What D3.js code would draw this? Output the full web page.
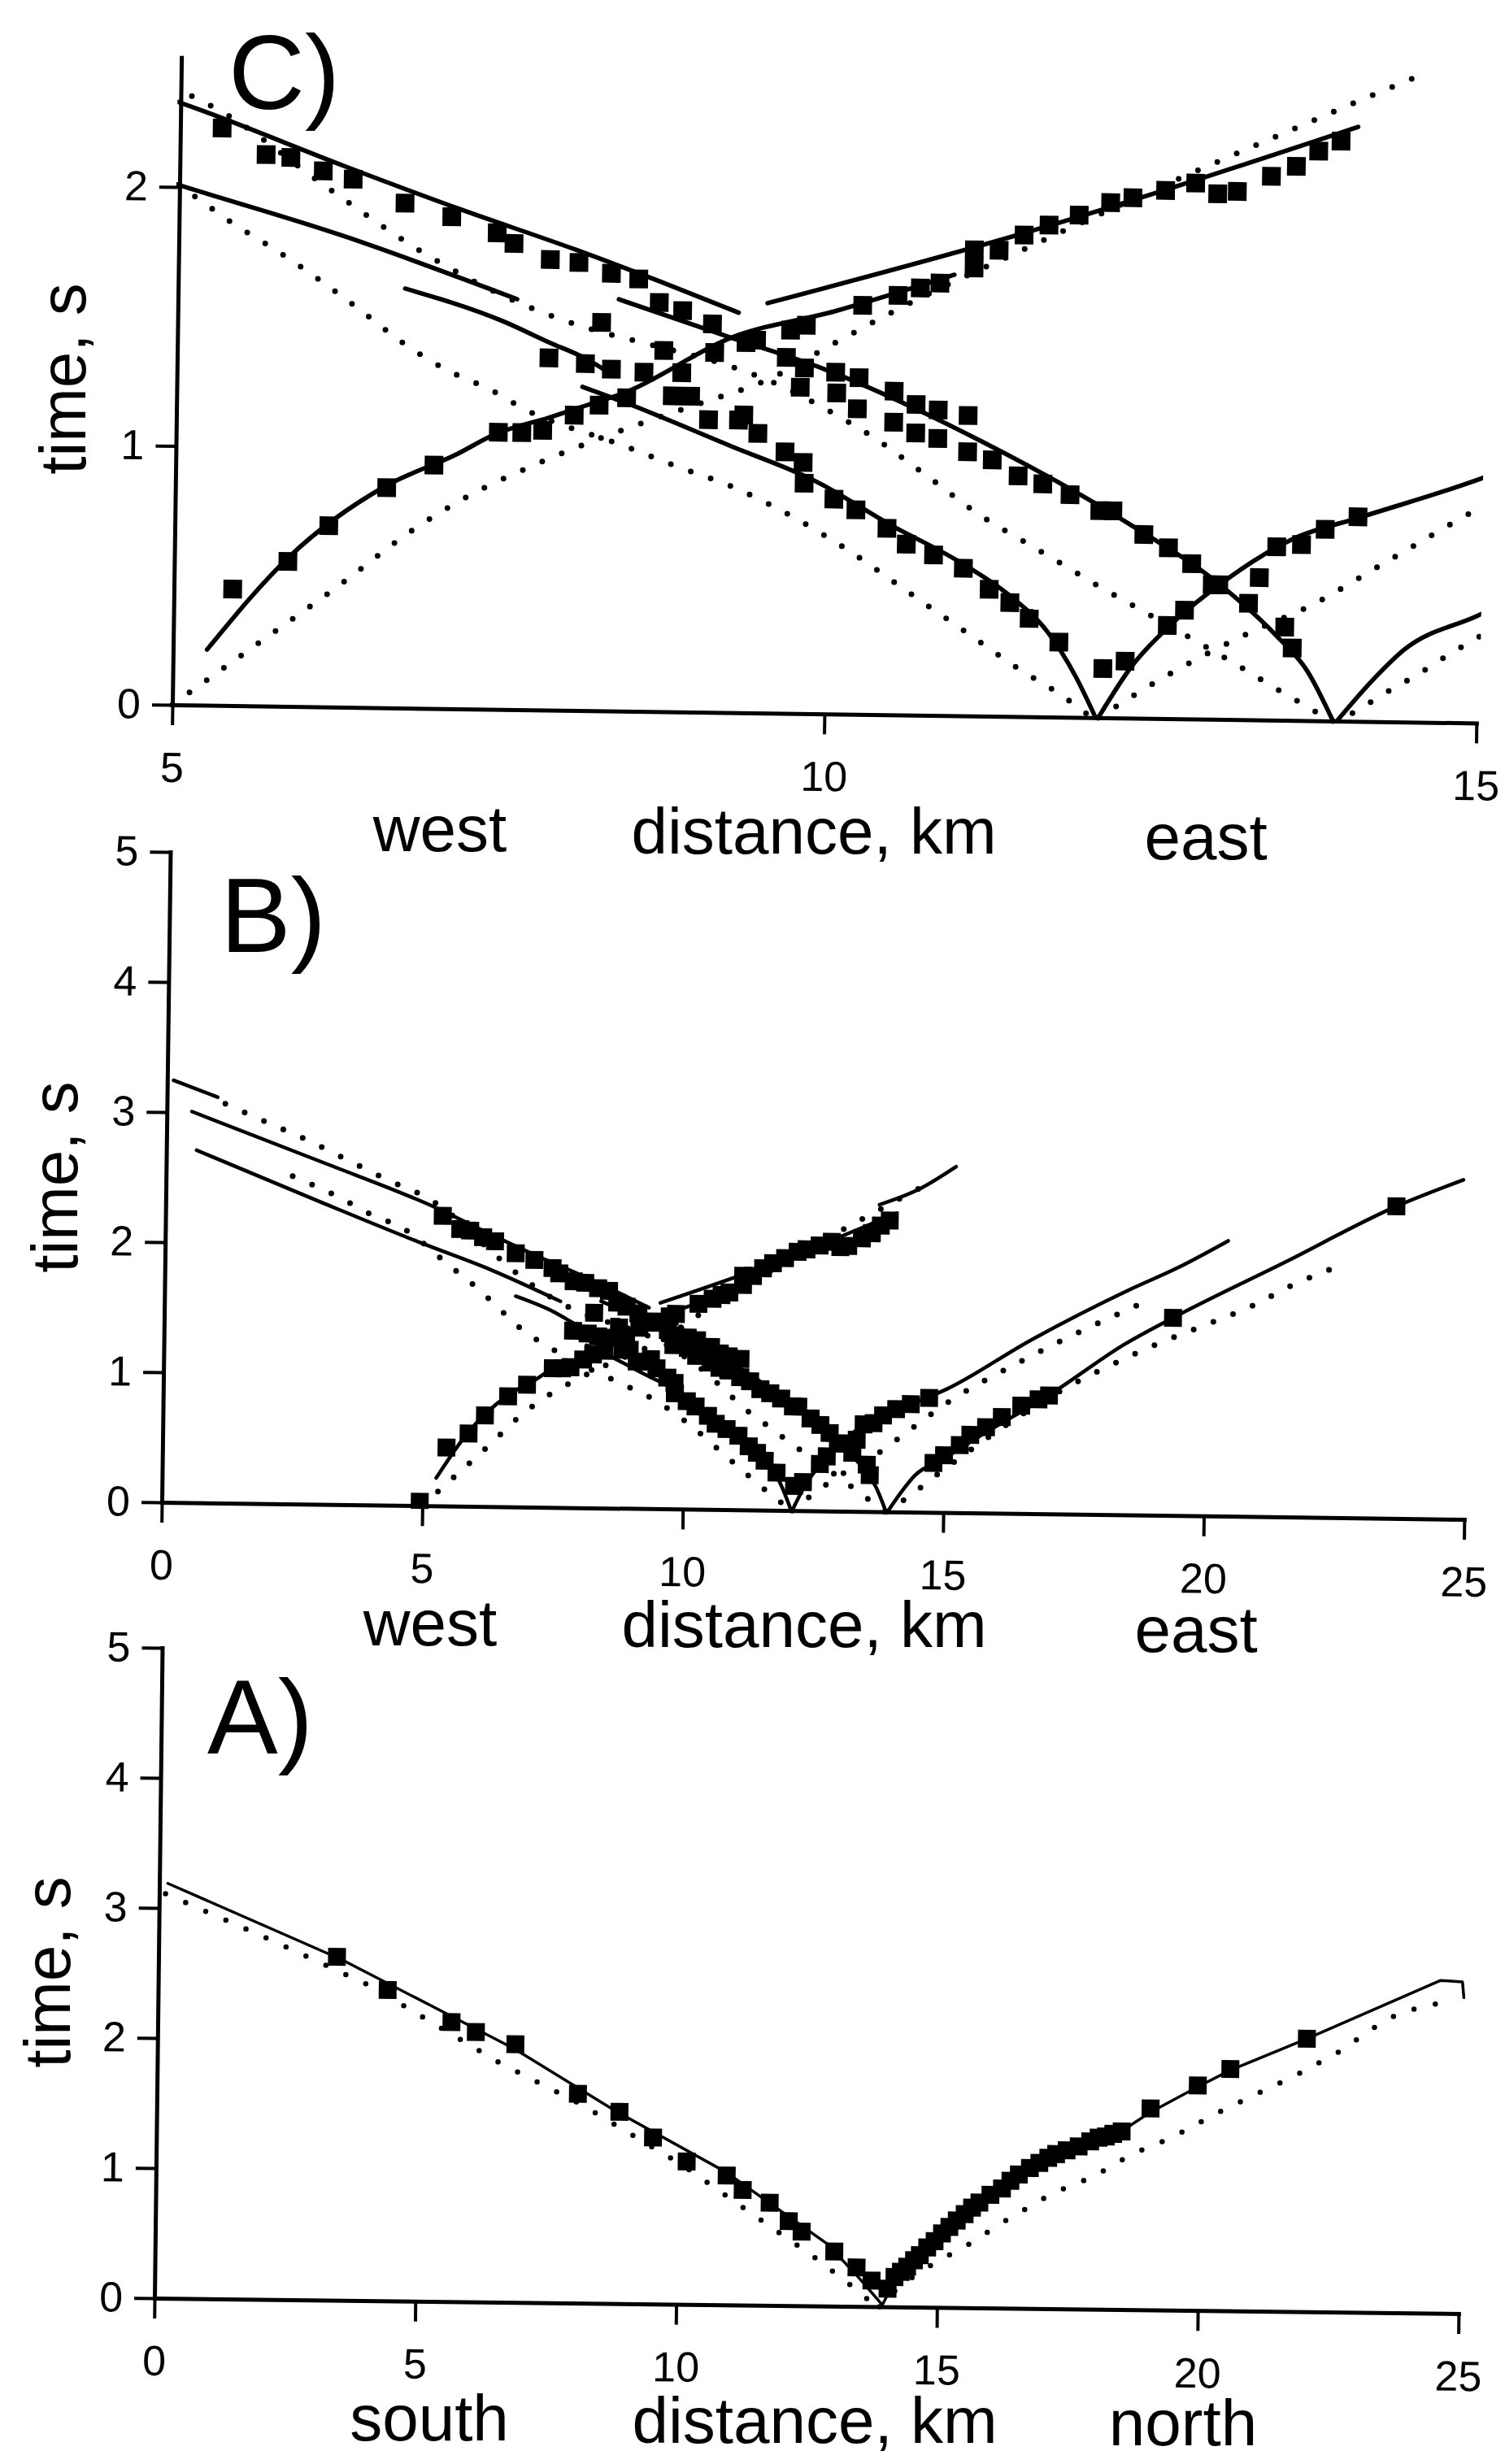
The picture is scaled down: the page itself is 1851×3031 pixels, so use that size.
<!DOCTYPE html>
<html>
<head>
<meta charset="utf-8">
<script src="https://cdn.jsdelivr.net/npm/d3@7"></script>
<style>
  html, body { margin: 0; padding: 0; background: #fff; }
  svg { display: block; }
</style>
</head>
<body>
<svg id="fig" width="1851" height="3031"></svg>
<script>
// ---------------------------------------------------------------
// Travel-time curves: observed first arrivals (squares), fitted
// model (solid) and starting model (dotted) for three profiles.
// Distance in km, time in s.
// ---------------------------------------------------------------

// ---- tick values ----
const ticksC_x = [5, 10, 15];
const ticksC_y = [0, 1, 2];
const ticksAB_x = [0, 5, 10, 15, 20, 25];
const ticksAB_y = [0, 1, 2, 3, 4, 5];

// ---- west-east profile (shared by panels B and C) ----
// fitted model branches
const weFitS1 = [[0.48,3.007],[3.0,2.63],[5.2,2.29],[6.26,2.09],[7.15,1.93],[8.04,1.78],[8.7,1.66],[9.30,1.545]];
const weFitS2 = [[0.58,2.71],[3.0,2.32],[4.91,2.02],[6.26,1.82],[7.6,1.585]];
const weFitS3 = [[6.74,1.62],[7.49,1.50],[7.85,1.42],[8.13,1.36],[8.3,1.31]];
const weFitD3 = [[8.11,1.25],[8.5,1.18],[9.25,1.03],[9.9,0.9],[10.5,0.73],[11.0,0.60],[11.4,0.47],[11.7,0.33],[11.92,0.16],[12.08,0.0]];
const weFitD2 = [[8.38,1.59],[9.23,1.45],[9.97,1.33],[11.18,1.06],[12.31,0.752],[13.03,0.516],[13.45,0.33],[13.7,0.19],[13.9,0.0]];
const weFitR1 = [[5.26,0.215],[5.88,0.578],[6.61,0.856],[7.15,0.982],[7.44,1.061],[7.86,1.13],[8.15,1.18],[8.42,1.227],[9.25,1.449],[10.04,1.556],[10.95,1.703]];
const weFitR2 = [[9.52,1.583],[11.56,1.88],[14.03,2.296]];
const weFitR3 = [[12.10,0.0],[12.35,0.2],[12.66,0.37],[13.04,0.53],[13.57,0.70],[14.1,0.79],[15.04,0.95],[16.62,1.33],[18.51,1.73],[19.46,1.91],[20.40,2.117]];
const weFitR4 = [[13.93,0.0],[14.2,0.16],[14.44,0.28],[15.0,0.415],[15.64,0.58],[17.1,0.94],[18.43,1.31],[19.36,1.52],[21.5,1.96],[23.62,2.40],[24.9,2.61]];
// branches only drawn on the full west-east section
const weFitTop = [[0.12,3.245],[0.97,3.12]];
const weFitTail = [[13.7,2.36],[14.44,2.48],[15.16,2.66]];

// starting model branches
const weInitD1 = [[1.12,3.07],[1.93,2.93],[2.7,2.80],[3.48,2.65],[4.26,2.50],[5.05,2.36],[5.29,2.30],[6.15,2.0],[6.86,1.764],[7.62,1.57],[8.11,1.482],[8.6,1.42],[9.27,1.333],[9.56,1.28],[10.03,1.163],[10.34,1.073],[10.76,0.925],[11.19,0.77],[11.5,0.68],[11.79,0.596],[12.1,0.505],[12.4,0.423],[12.86,0.296],[13.15,0.214],[13.46,0.122],[13.75,0.04],[13.88,0.0]];
const weInitD2 = [[2.43,2.52],[3.24,2.38],[4.02,2.22],[4.52,2.14],[5.1,1.97],[5.42,1.86],[5.75,1.76],[6.08,1.65],[6.41,1.53],[6.73,1.41],[7.06,1.31],[7.42,1.23],[7.66,1.163],[8.42,1.027],[8.83,0.95],[9.3,0.866],[9.76,0.753],[10.2,0.622],[10.63,0.475],[11.07,0.326],[11.5,0.18],[11.8,0.09],[12.05,0.0]];
const weInitR1 = [[5.0,0.0],[5.15,0.056],[5.7,0.26],[6.26,0.468],[6.81,0.683],[7.25,0.823],[7.72,0.939],[8.03,1.007],[8.5,1.10],[9.0,1.19],[9.54,1.29],[10.03,1.43],[10.48,1.556],[11.5,1.81],[12.94,2.15],[13.56,2.29],[14.05,2.40],[14.53,2.505]];
const weInitR3 = [[12.1,0.0],[12.6,0.16],[13.35,0.36],[13.66,0.43],[14.3,0.62],[15.0,0.83],[16.5,1.18],[18.98,1.67]];
const weInitR4 = [[13.9,0.0],[14.08,0.04],[14.24,0.093],[14.53,0.18],[14.82,0.275],[15.0,0.33],[16.71,0.82],[17.43,0.995],[18.23,1.16],[19.08,1.32],[19.93,1.46],[20.88,1.62],[21.63,1.78],[22.44,1.92]];

// observed first arrivals
const weObserved = [
  [5.45,0.45],[5.87,0.56],[6.18,0.70],[6.62,0.85],[6.98,0.94],[7.47,1.07],[7.65,1.07],[7.81,1.08],[8.05,1.14],[8.24,1.18],[8.45,1.21],
  [5.32,2.23],[5.66,2.13],[5.85,2.12],[6.10,2.07],[6.33,2.04],[6.73,1.95],[7.09,1.90],[7.44,1.84],[7.57,1.80],[7.85,1.74],[8.07,1.73],[8.32,1.69],[8.53,1.67],[8.69,1.58],[8.87,1.55],[9.10,1.50],[9.36,1.43],
  [7.85,1.36],[8.13,1.34],[8.33,1.32],[8.25,1.50],[8.58,1.31],[8.73,1.395],[8.87,1.31],[9.12,1.39],[8.80,1.22],[8.94,1.22],[9.08,1.13],[9.31,1.13],[9.35,1.15],
  [9.46,1.08],[9.67,1.01],[9.81,0.97],[9.82,0.89],[10.05,0.83],[10.22,0.79],[10.46,0.72],[10.61,0.66],[10.82,0.62],[11.05,0.57],[11.25,0.49],[11.41,0.44],[11.56,0.38],[11.79,0.29],
  [9.78,1.26],[10.06,1.24],[10.22,1.18],[10.50,1.13],[10.67,1.09],[10.84,1.07],[11.07,1.02],[11.26,0.99],[11.46,0.93],[11.65,0.90],[11.86,0.86],[12.09,0.80],[12.19,0.80],[12.43,0.71],[12.62,0.66],[12.80,0.60],[13.01,0.52],[13.24,0.45],[13.52,0.36],[13.58,0.28],
  [9.67,1.375],[9.81,1.335],[10.05,1.32],[10.23,1.30],[10.50,1.25],[10.67,1.20],[10.84,1.18],[11.07,1.16],
  [9.44,1.44],[9.70,1.48],[9.82,1.50],[10.25,1.58],[10.52,1.62],[10.69,1.65],[10.84,1.67],[11.10,1.73],[11.10,1.80],[11.29,1.80],[11.48,1.86],[11.67,1.90],[11.90,1.94],[12.14,1.99],[12.31,2.01],[12.56,2.04],[12.79,2.07],[12.96,2.03],[13.11,2.04],[13.37,2.10],[13.56,2.14],[13.73,2.20],[13.90,2.24],
  [12.13,0.19],[12.30,0.22],[12.62,0.36],[12.75,0.42],[12.96,0.52],[13.32,0.55],[13.45,0.67],[13.64,0.68],[13.82,0.74],[14.07,0.79]
];
// picks only shown on the full west-east section
const weObservedFar = [
  [4.95,0.03],[14.35,0.83],[14.7,0.88],[14.8,0.38],[15.0,0.44],[15.3,0.52],[15.5,0.60],[15.8,0.66],[16.1,0.74],[16.47,0.83],[16.8,0.88],[17.0,0.91],[19.36,1.52],[23.62,2.40]
];

// ---- south-north profile (panel A) ----
const snFitSouth = [[0.16,3.19],[3.51,2.62],[5.6,2.2],[6.84,1.95],[8.8,1.48],[10.93,1.02],[12.88,0.48],[13.5,0.22],[13.94,0.02]];
const snFitNorth = [[13.96,0.02],[14.18,0.2],[14.66,0.38],[15.22,0.6],[15.79,0.8],[16.54,1.02],[17.25,1.17],[18.06,1.31],[18.6,1.40],[19.05,1.52],[19.95,1.72],[20.57,1.85],[22.03,2.10],[24.58,2.56],[25.0,2.55],[25.03,2.43]];
const snInitSouth = [[0.12,3.11],[2.12,2.77],[4.07,2.42],[6.52,1.85],[8.15,1.525],[10.11,1.066],[11.74,0.62],[12.62,0.38],[13.29,0.18],[13.62,0.07],[13.9,0.0]];
const snInitNorth = [[13.9,0.0],[14.3,0.17],[14.94,0.34],[15.6,0.49],[16.36,0.69],[17.2,0.89],[17.97,1.02],[18.72,1.20],[19.48,1.33],[20.28,1.51],[21.08,1.67],[21.84,1.82],[22.64,2.0],[23.35,2.20],[23.82,2.31],[24.6,2.39]];
const snObserved = [
  [3.42,2.64],[4.40,2.39],[5.63,2.15],[6.10,2.075],[6.86,1.985],[8.07,1.61],[8.87,1.475],[9.52,1.28],[10.17,1.10],[10.94,0.995],[11.25,0.885],[11.77,0.79],[12.14,0.65],[12.39,0.57],[13.02,0.42],[13.45,0.30],[13.74,0.20],
  [14.05,0.14],[14.18,0.23],[14.3,0.27],[14.42,0.31],[14.55,0.36],[14.66,0.40],[14.8,0.46],[14.94,0.51],[15.08,0.57],[15.22,0.62],[15.36,0.67],[15.51,0.72],[15.65,0.77],[15.79,0.81],[16.0,0.87],[16.22,0.92],[16.38,0.98],[16.54,1.03],[16.75,1.08],[16.93,1.12],[17.1,1.16],[17.25,1.19],[17.45,1.22],[17.68,1.25],[17.9,1.29],[18.06,1.32],[18.2,1.33],[18.34,1.35],[18.5,1.37],
  [19.05,1.55],[19.95,1.73],[20.57,1.86],[22.03,2.10]
];

// ---------------------------------------------------------------
const FONT = "'Liberation Sans', Arial, Helvetica, sans-serif";
const svg = d3.select("#fig");
svg.append("rect").attr("width", 1851).attr("height", 3031).attr("fill", "#fff");

function drawPanel(cfg) {
  const g = svg.append("g")
    .attr("transform", `translate(${cfg.ox},${cfg.oy}) rotate(${cfg.angle})`);

  const x = d3.scaleLinear().domain(cfg.xDomain).range([0, cfg.width]);
  const y = d3.scaleLinear().domain([0, cfg.yMax]).range([0, -cfg.yMax * cfg.pxPerSec]);

  const clipId = "clip-" + cfg.id;
  g.append("clipPath").attr("id", clipId).append("rect")
    .attr("x", -4).attr("y", y(cfg.yMax) - 20)
    .attr("width", cfg.width + 8).attr("height", cfg.yMax * cfg.pxPerSec + 24);

  const marks = g.append("g").attr("clip-path", `url(#${clipId})`);
  const line = d3.line().x(d => x(d[0])).y(d => y(d[1])).curve(cfg.curve);

  // starting model: round dots
  marks.append("g").selectAll("path").data(cfg.dotted).join("path")
    .attr("d", line).attr("fill", "none").attr("stroke", "#000")
    .attr("stroke-width", cfg.dotSize).attr("stroke-linecap", "round")
    .attr("stroke-dasharray", `0 ${cfg.dotGap}`);

  // fitted model: solid
  marks.append("g").selectAll("path").data(cfg.solid).join("path")
    .attr("d", line).attr("fill", "none").attr("stroke", "#000")
    .attr("stroke-width", cfg.lineW).attr("stroke-linecap", "round").attr("stroke-linejoin", "round");

  // observed picks
  const s = cfg.sq;
  marks.append("g").selectAll("rect").data(cfg.squares).join("rect")
    .attr("x", d => x(d[0]) - s / 2).attr("y", d => y(d[1]) - s / 2)
    .attr("width", s).attr("height", s).attr("fill", "#000");

  // axes
  const gx = g.append("g").call(
    d3.axisBottom(x).tickValues(cfg.xTicks).tickFormat(d3.format("d"))
      .tickSize(25).tickSizeOuter(0).tickPadding(33));
  const gy = g.append("g").call(
    d3.axisLeft(y).tickValues(cfg.yTicks).tickFormat(d3.format("d"))
      .tickSize(25).tickSizeOuter(0).tickPadding(14));
  [gx, gy].forEach(a => {
    a.attr("font-size", 52).attr("font-family", FONT);
    a.select(".domain").attr("stroke-width", 5).attr("stroke-linecap", "square");
    a.selectAll(".tick line").attr("stroke-width", 4);
    a.selectAll(".tick text").attr("fill", "#000");
  });
}

// C) enlarged west-east section
drawPanel({
  id: "C", ox: 212, oy: 867, angle: 0.8,
  xDomain: [5, 15], width: 1604, yMax: 2.5, pxPerSec: 318.5,
  xTicks: ticksC_x, yTicks: ticksC_y, curve: d3.curveMonotoneX,
  solid: [weFitS1, weFitS2, weFitS3, weFitD3, weFitD2, weFitR1, weFitR2, weFitR3, weFitR4],
  dotted: [weInitD1, weInitD2, weInitR1, weInitR3, weInitR4],
  squares: weObserved,
  lineW: 5.5, dotSize: 7, dotGap: 26, sq: 23
});

// B) full west-east section
drawPanel({
  id: "B", ox: 199, oy: 1848, angle: 0.75,
  xDomain: [0, 25], width: 1602, yMax: 5, pxPerSec: 160,
  xTicks: ticksAB_x, yTicks: ticksAB_y, curve: d3.curveMonotoneX,
  solid: [weFitTop, weFitS1, weFitS2, weFitS3, weFitD3, weFitD2, weFitR1, weFitR2, weFitTail, weFitR3, weFitR4],
  dotted: [weInitD1, weInitD2, weInitR1, weInitR3, weInitR4],
  squares: weObserved.concat(weObservedFar),
  lineW: 4.5, dotSize: 7, dotGap: 26, sq: 22
});

// A) south-north section
drawPanel({
  id: "A", ox: 190, oy: 2827, angle: 0.68,
  xDomain: [0, 25], width: 1604, yMax: 5, pxPerSec: 160,
  xTicks: ticksAB_x, yTicks: ticksAB_y, curve: d3.curveLinear,
  solid: [snFitSouth, snFitNorth],
  dotted: [snInitSouth, snInitNorth],
  squares: snObserved,
  lineW: 3.5, dotSize: 6.5, dotGap: 27, sq: 22
});

// ---- panel letters and axis titles ----
const texts = [
  { t: "C)", x: 281, y: 134, size: 130 },
  { t: "B)", x: 271, y: 1171, size: 130 },
  { t: "A)", x: 255, y: 2157, size: 130 },
  { t: "west", x: 541, y: 1047, size: 80, anchor: "middle" },
  { t: "distance, km", x: 1001, y: 1050, size: 80, anchor: "middle" },
  { t: "east", x: 1483, y: 1057, size: 80, anchor: "middle" },
  { t: "west", x: 529, y: 2024, size: 80, anchor: "middle" },
  { t: "distance, km", x: 989, y: 2026, size: 80, anchor: "middle" },
  { t: "east", x: 1471, y: 2032, size: 80, anchor: "middle" },
  { t: "south", x: 528, y: 3002, size: 80, anchor: "middle" },
  { t: "distance, km", x: 1002, y: 3005, size: 80, anchor: "middle" },
  { t: "north", x: 1455, y: 3008, size: 80, anchor: "middle" }
];
svg.append("g").selectAll("text").data(texts).join("text")
  .attr("x", d => d.x).attr("y", d => d.y)
  .attr("font-family", FONT).attr("font-size", d => d.size)
  .attr("text-anchor", d => d.anchor || "start").attr("fill", "#000")
  .text(d => d.t);

const yTitles = [
  { x: 105, y: 466 },
  { x: 95, y: 1448 },
  { x: 86, y: 2426 }
];
svg.append("g").selectAll("text").data(yTitles).join("text")
  .attr("transform", d => `translate(${d.x},${d.y}) rotate(-90)`)
  .attr("font-family", FONT).attr("font-size", 80)
  .attr("text-anchor", "middle").attr("fill", "#000")
  .text("time, s");
</script>
</body>
</html>
